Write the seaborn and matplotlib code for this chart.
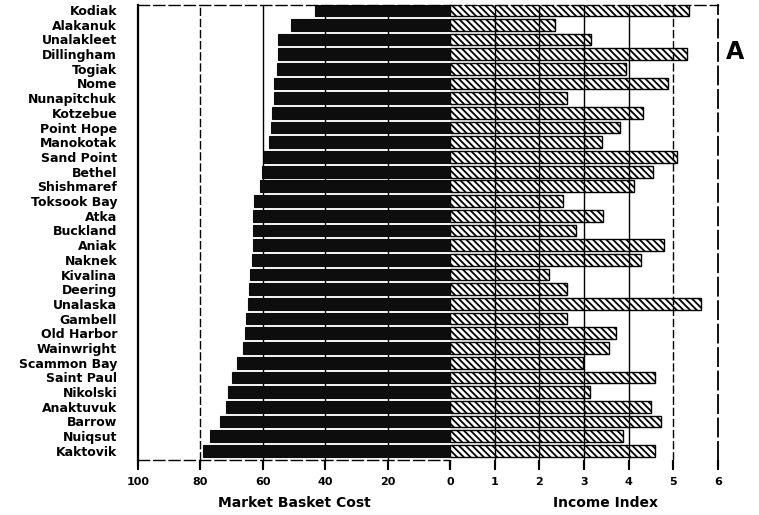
import matplotlib
matplotlib.use("Agg")
import matplotlib.pyplot as plt
import matplotlib.transforms as mtransforms
import seaborn as sns
import pandas as pd

# Communities, ordered as listed (top to bottom)
places = [
    "Kodiak", "Alakanuk", "Unalakleet", "Dillingham", "Togiak", "Nome",
    "Nunapitchuk", "Kotzebue", "Point Hope", "Manokotak", "Sand Point",
    "Bethel", "Shishmaref", "Toksook Bay", "Atka", "Buckland", "Aniak",
    "Naknek", "Kivalina", "Deering", "Unalaska", "Gambell", "Old Harbor",
    "Wainwright", "Scammon Bay", "Saint Paul", "Nikolski", "Anaktuvuk",
    "Barrow", "Nuiqsut", "Kaktovik",
]

# Weekly market basket cost
basket_cost = [
    43.4, 51.1, 55.0, 55.2, 55.6, 56.4, 56.5, 57.0, 57.5, 57.9, 59.5,
    60.2, 60.9, 62.8, 63.1, 63.1, 63.3, 63.5, 64.1, 64.4, 64.9, 65.5,
    65.6, 66.3, 68.2, 69.9, 71.2, 71.9, 73.8, 76.8, 79.2,
]

# Income index
income_index = [
    5.34, 2.35, 3.16, 5.31, 3.95, 4.89, 2.62, 4.33, 3.81, 3.41, 5.09,
    4.55, 4.11, 2.53, 3.43, 2.83, 4.78, 4.28, 2.22, 2.62, 5.63, 2.62,
    3.72, 3.57, 2.98, 4.60, 3.14, 4.51, 4.73, 3.88, 4.60,
]

cost_ticks = [100, 80, 60, 40, 20, 0]
income_ticks = [0, 1, 2, 3, 4, 5, 6]
income_tick_labels = ["", "1", "2", "3", "4", "5", "6"]

df = pd.DataFrame({"place": places, "cost": basket_cost, "income": income_index})

sns.set_theme(style="ticks")
plt.rcParams["font.family"] = ["DejaVu Sans"]
plt.rcParams["hatch.linewidth"] = 1.3
for key in ("text.color", "axes.labelcolor", "xtick.color", "ytick.color"):
    plt.rcParams[key] = "black"

W, H = 759, 515
fig = plt.figure(figsize=(W / 100, H / 100), dpi=100)

x_left, x_zero, x_right = 138, 450, 718
y_top, y_bot = 5, 460
bottom = (H - y_bot) / H
height = (y_bot - y_top) / H
ax1 = fig.add_axes([x_left / W, bottom, (x_zero - x_left) / W, height])
ax2 = fig.add_axes([x_zero / W, bottom, (x_right - x_zero) / W, height], sharey=ax1)

# Left panel: market basket cost, growing leftwards
sns.barplot(data=df, y="place", x="cost", orient="h", ax=ax1,
            color="#0d0d0d", saturation=1, width=0.8, edgecolor="#0d0d0d",
            linewidth=0.8)
ax1.set_xlim(100, 0)

# Right panel: income index, hatched bars
sns.barplot(data=df, y="place", x="income", orient="h", ax=ax2,
            color="white", saturation=1, width=0.8, edgecolor="black",
            linewidth=1.0, hatch="\\" * 5)
ax2.set_xlim(0, 6)

for ax in (ax1, ax2):
    for p in ax.patches:
        p.set_zorder(2)

ax1.set_ylim(len(places) - 1 + 0.62, -0.34)

# Vertical reference lines (left ones sit behind the solid bars)
for v in [80, 60, 40, 20]:
    ax1.axvline(v, color="black", lw=1.0,
                ls=(0, (6, 2)) if v == 80 else "-", zorder=1)
for v in [1, 2, 3, 4, 5]:
    ax2.axvline(v, color="black", lw=1.0,
                ls=(0, (6, 2)) if v == 5 else "-", zorder=3)

ax1.set_xticks(cost_ticks)
ax1.set_xticklabels([str(t) for t in cost_ticks], fontweight="bold", fontsize=8)
ax2.set_xticks(income_ticks)
ax2.set_xticklabels(income_tick_labels, fontweight="bold", fontsize=8)

for ax in (ax1, ax2):
    ax.set_facecolor("white")
    ax.set_ylabel("")
    ax.tick_params(axis="x", which="major", bottom=True, top=False,
                   direction="out", length=7, width=1.5, color="black", pad=5)

# Short downward tick strokes under the baseline
for ax, ticks in ((ax1, cost_ticks), (ax2, income_ticks[1:])):
    trans = mtransforms.blended_transform_factory(ax.transData, ax.transAxes)
    for t in ticks:
        ax.plot([t, t], [0, -0.016], transform=trans, color="black",
                lw=1.5, clip_on=False, zorder=5, solid_capstyle="butt")

# Category labels
ax1.tick_params(axis="y", left=False, length=0, pad=15)
ax1.set_yticks(range(len(places)))
ax1.set_yticklabels(places, fontweight="bold", fontsize=9)
ax2.tick_params(axis="y", left=False, labelleft=False)

# Frame
for s in ax1.spines.values():
    s.set_color("black")
ax1.spines["left"].set_linewidth(1.6)
ax1.spines["right"].set_visible(False)
ax1.spines["top"].set_linestyle((0, (8, 3)))
ax1.spines["top"].set_linewidth(1.0)
ax1.spines["bottom"].set_linestyle((0, (8, 3)))
ax1.spines["bottom"].set_linewidth(1.0)

for s in ax2.spines.values():
    s.set_color("black")
ax2.spines["left"].set_visible(False)
ax2.spines["right"].set_linestyle((0, (10, 3)))
ax2.spines["right"].set_linewidth(1.3)
ax2.spines["top"].set_linestyle((0, (8, 3)))
ax2.spines["top"].set_linewidth(1.0)
ax2.spines["bottom"].set_visible(False)

ax1.set_xlabel("Market Basket Cost", fontweight="bold", fontsize=10)
ax2.set_xlabel("Income Index", fontweight="bold", fontsize=10)
ax1.xaxis.set_label_coords(0.5, -0.08)
ax2.xaxis.set_label_coords(0.58, -0.08)

fig.text(735 / W, 1 - 52 / H, "A", fontsize=17, fontweight="bold",
         ha="center", va="center")

fig.savefig("out.png", dpi=100, facecolor="white")
